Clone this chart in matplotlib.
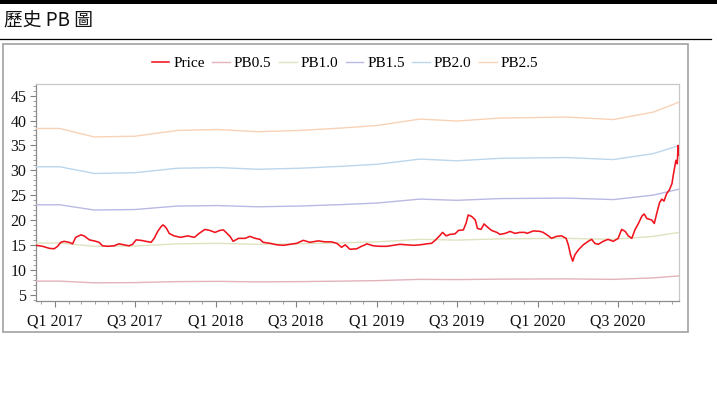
import matplotlib
matplotlib.use('Agg')
import matplotlib.pyplot as plt
import matplotlib.dates as mdates
from matplotlib.ticker import MultipleLocator, FuncFormatter
from matplotlib.patches import Rectangle
from matplotlib.lines import Line2D
from matplotlib.font_manager import FontProperties
import pandas as pd

# ---------------- data ----------------
price_dates = [
    "2016-11-19", "2016-12-04", "2016-12-19", "2016-12-30", "2017-01-07", "2017-01-14", "2017-01-22",
    "2017-02-02", "2017-02-10", "2017-02-17", "2017-03-01", "2017-03-08", "2017-03-20", "2017-04-04",
    "2017-04-11", "2017-04-19", "2017-04-30", "2017-05-15", "2017-05-26", "2017-06-07", "2017-06-18",
    "2017-06-26", "2017-07-04", "2017-07-15", "2017-07-26", "2017-08-07", "2017-08-14", "2017-08-22",
    "2017-08-30", "2017-09-03", "2017-09-06", "2017-09-11", "2017-09-17", "2017-09-28", "2017-10-13",
    "2017-10-29", "2017-11-13", "2017-11-24", "2017-12-07", "2017-12-18", "2017-12-30", "2018-01-10",
    "2018-01-18", "2018-01-26", "2018-02-02", "2018-02-09", "2018-02-21", "2018-03-08", "2018-03-19",
    "2018-03-31", "2018-04-11", "2018-04-18", "2018-05-04", "2018-05-19", "2018-06-03", "2018-06-18",
    "2018-07-03", "2018-07-18", "2018-08-02", "2018-08-21", "2018-09-05", "2018-09-20", "2018-10-02",
    "2018-10-13", "2018-10-21", "2018-11-01", "2018-11-16", "2018-11-27", "2018-12-05", "2018-12-09",
    "2018-12-24", "2019-01-08", "2019-01-23", "2019-02-07", "2019-02-22", "2019-03-10", "2019-03-25",
    "2019-04-09", "2019-04-24", "2019-05-05", "2019-05-13", "2019-05-22", "2019-05-30", "2019-06-07",
    "2019-06-16", "2019-06-27", "2019-07-05", "2019-07-16", "2019-07-22", "2019-07-27", "2019-08-04",
    "2019-08-12", "2019-08-17", "2019-08-25", "2019-09-01", "2019-09-07", "2019-09-18", "2019-09-30",
    "2019-10-07", "2019-10-19", "2019-10-30", "2019-11-10", "2019-11-21", "2019-12-03", "2019-12-07",
    "2019-12-22", "2020-01-06", "2020-01-13", "2020-01-25", "2020-02-01", "2020-02-12", "2020-02-24",
    "2020-03-05", "2020-03-10", "2020-03-15", "2020-03-20", "2020-03-25", "2020-04-02", "2020-04-13",
    "2020-04-24", "2020-05-02", "2020-05-09", "2020-05-17", "2020-05-28", "2020-06-08", "2020-06-20",
    "2020-07-01", "2020-07-09", "2020-07-17", "2020-07-24", "2020-08-01", "2020-08-08", "2020-08-16",
    "2020-08-24", "2020-08-29", "2020-09-04", "2020-09-15", "2020-09-21", "2020-09-27", "2020-10-03",
    "2020-10-08", "2020-10-13", "2020-10-19", "2020-10-25", "2020-10-31", "2020-11-03", "2020-11-07",
    "2020-11-09", "2020-11-12", "2020-11-14", "2020-11-16",
]
price_values = [
    14.9, 14.7, 14.3, 14.2, 14.7, 15.5, 15.7,
    15.5, 15.2, 16.5, 17.0, 16.8, 16.0, 15.7,
    15.5, 14.8, 14.7, 14.8, 15.2, 15.0, 14.8,
    15.1, 16.0, 15.9, 15.7, 15.5, 16.3, 17.7,
    18.7, 19.0, 18.8, 18.3, 17.3, 16.8, 16.5,
    16.8, 16.5, 17.3, 18.1, 17.9, 17.5, 17.9,
    18.0, 17.3, 16.7, 15.7, 16.3, 16.3, 16.7,
    16.3, 16.1, 15.5, 15.3, 15.0, 14.9, 15.1,
    15.3, 15.9, 15.5, 15.8, 15.6, 15.6, 15.3,
    14.5, 15.0, 14.1, 14.2, 14.7, 15.0, 15.2,
    14.8, 14.7, 14.7, 14.9, 15.1, 15.0, 14.9,
    15.0, 15.2, 15.3, 15.9, 16.7, 17.5, 16.8,
    17.1, 17.2, 17.9, 18.0, 19.3, 21.0, 20.7,
    20.0, 18.3, 18.1, 19.2, 18.7, 17.9, 17.5,
    17.1, 17.3, 17.7, 17.3, 17.5, 17.5, 17.3,
    17.8, 17.7, 17.5, 16.8, 16.3, 16.7, 16.8,
    16.3, 15.0, 13.0, 11.7, 13.0, 14.0, 15.0,
    15.7, 16.1, 15.3, 15.1, 15.7, 16.1, 15.7,
    16.3, 18.1, 17.7, 16.8, 16.3, 18.0, 19.3,
    20.8, 21.2, 20.3, 20.0, 19.3, 21.5, 23.5,
    24.2, 23.8, 25.3, 26.0, 27.3, 29.0, 31.0,
    32.0, 31.3, 35.0, 33.0,
]

pb_dates = [
    "2016-11-19", "2017-01-12", "2017-03-31", "2017-07-01", "2017-10-05", "2018-01-05",
    "2018-04-05", "2018-07-10", "2018-10-14", "2019-01-01", "2019-04-09", "2019-07-01",
    "2019-10-07", "2020-03-07", "2020-06-20", "2020-09-19", "2020-11-16",
]
pb05 = [7.70, 7.70, 7.35, 7.40, 7.60, 7.65, 7.55, 7.60, 7.70, 7.80, 8.05, 8.00, 8.10, 8.15, 8.05, 8.35, 8.75]
pb10 = [15.35, 15.35, 14.70, 14.75, 15.20, 15.30, 15.10, 15.20, 15.40, 15.60, 16.10, 15.95, 16.20, 16.30, 16.10, 16.70, 17.50]
pb15 = [23.05, 23.05, 22.00, 22.10, 22.80, 22.90, 22.65, 22.80, 23.10, 23.40, 24.20, 23.95, 24.30, 24.40, 24.10, 25.00, 26.20]
pb20 = [30.70, 30.70, 29.35, 29.50, 30.40, 30.55, 30.20, 30.40, 30.80, 31.20, 32.25, 31.90, 32.40, 32.55, 32.15, 33.35, 34.95]
pb25 = [38.40, 38.40, 36.70, 36.85, 38.00, 38.20, 37.75, 38.00, 38.50, 39.00, 40.30, 39.90, 40.50, 40.70, 40.20, 41.70, 43.70]

series_labels = ["Price", "PB0.5", "PB1.0", "PB1.5", "PB2.0", "PB2.5"]
series_colors = ["#f0141e", "#e3b2bb", "#dfe3bf", "#b9b9e3", "#bcd6ec", "#f8d2b6"]
title_text = "歷史 PB 圖"
y_ticks = [5, 10, 15, 20, 25, 30, 35, 40, 45]

# ---------------- layout ----------------
W, H = 717, 396
fig = plt.figure(figsize=(W / 100, H / 100), dpi=100)


def fx(px):
    return px / W


def fy(py):
    return 1 - py / H


# top black bar, title and separator
fig.add_artist(Rectangle((0, fy(3.5)), 1, 3.5 / H, transform=fig.transFigure,
                         facecolor="black", edgecolor="none"))
fig.text(fx(4), fy(21), title_text, family=["Noto Sans CJK TC", "DejaVu Sans"],
         fontsize=13.5, weight="light", ha="left", va="center", color="#111111")
fig.add_artist(Line2D([0, fx(711)], [fy(38.5), fy(38.5)], transform=fig.transFigure,
                      color="black", lw=0.9))
# outer chart box
fig.add_artist(Rectangle((fx(3), fy(332)), fx(688 - 3), (332 - 43.5) / H,
                         transform=fig.transFigure, fill=False,
                         edgecolor="#a8a8a8", lw=1.3))

ax = fig.add_axes([fx(36), fy(300.5), fx(679 - 36), (300.5 - 84) / H])

pdates = pd.to_datetime(price_dates)
bdates = pd.to_datetime(pb_dates)

handles = []
h, = ax.plot(pdates, price_values, color=series_colors[0], lw=1.15, zorder=5)
handles.append(h)
for vals, col in zip([pb05, pb10, pb15, pb20, pb25], series_colors[1:]):
    h, = ax.plot(bdates, vals, color=col, lw=1.0, zorder=3)
    handles.append(h)

ax.set_xlim(pdates[0], pdates[-1])
ax.set_ylim(3.8, 47.35)

serif = "Liberation Serif"
ax.set_yticks(y_ticks)
ax.yaxis.set_minor_locator(MultipleLocator(1))
ax.xaxis.set_major_locator(mdates.MonthLocator(bymonth=[1, 7]))
ax.xaxis.set_minor_locator(mdates.MonthLocator())


def qfmt(x, pos=None):
    d = mdates.num2date(x)
    return f"Q{(d.month - 1) // 3 + 1} {d.year}"


ax.xaxis.set_major_formatter(FuncFormatter(qfmt))

ax.tick_params(axis="both", which="major", length=4, width=0.8, color="#808080",
               labelsize=11.5, labelcolor="#111111")
ax.tick_params(axis="both", which="minor", length=2, width=0.6, color="#909090")
ax.tick_params(axis="y", which="major", pad=3)
ax.tick_params(axis="x", which="major", pad=5)
for lab in ax.get_xticklabels() + ax.get_yticklabels():
    lab.set_fontfamily(serif)

for side in ["left", "bottom"]:
    ax.spines[side].set_color("#8c8c8c")
    ax.spines[side].set_linewidth(0.9)
for side in ["top", "right"]:
    ax.spines[side].set_color("#c8c8c8")
    ax.spines[side].set_linewidth(0.9)

fig.legend(handles, series_labels, loc="center", bbox_to_anchor=(fx(345), fy(63.5)),
           ncol=6, frameon=False, prop=FontProperties(family=serif, size=11),
           handlelength=1.15, handletextpad=0.25, columnspacing=0.5,
           borderaxespad=0, borderpad=0)

fig.savefig("out.png", dpi=100)
